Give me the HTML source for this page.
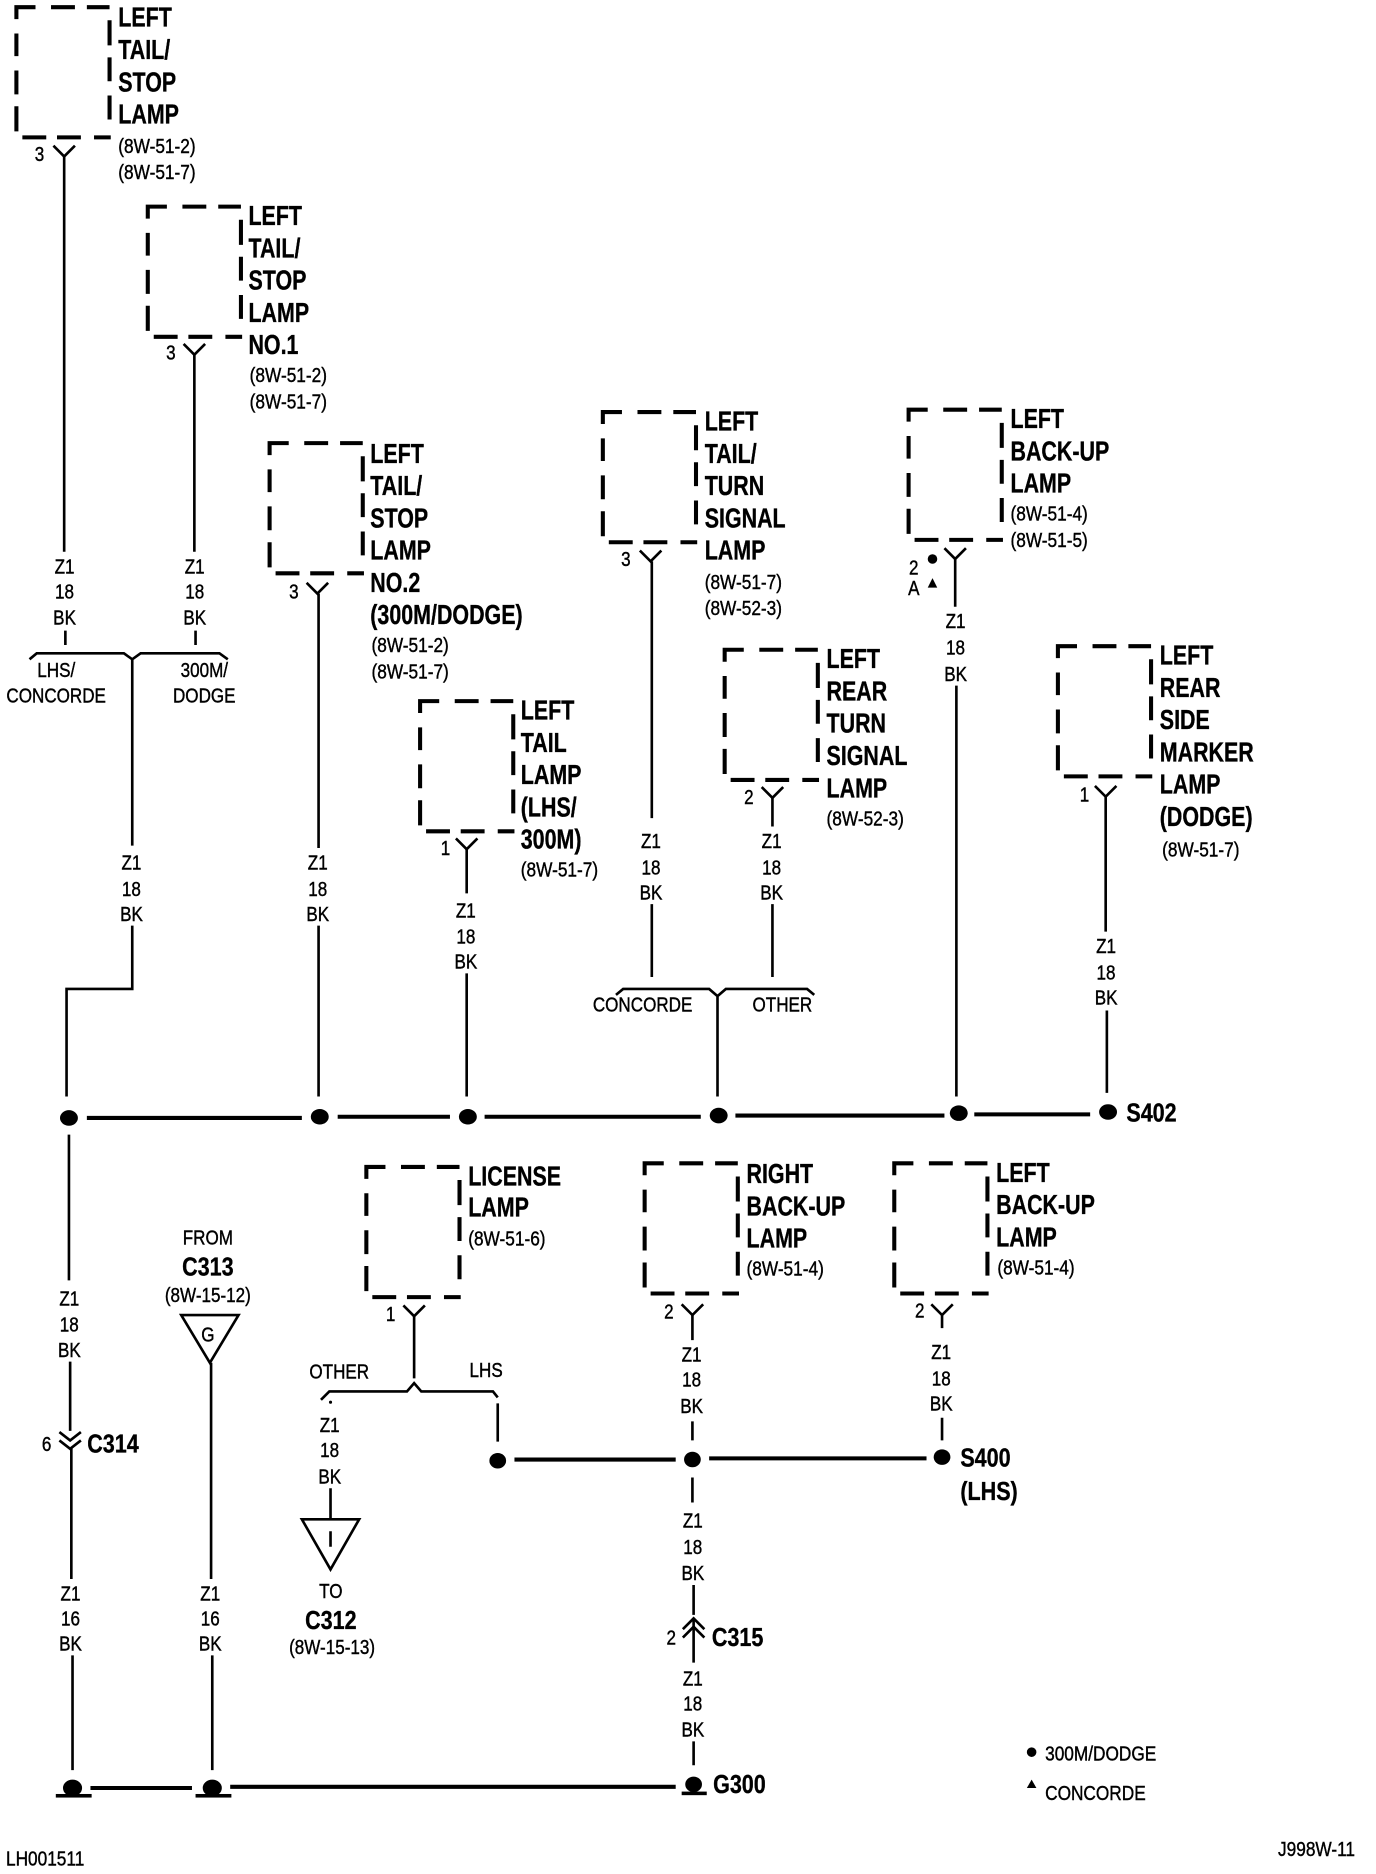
<!DOCTYPE html>
<html>
<head>
<meta charset="utf-8">
<style>
html,body{margin:0;padding:0;background:#fff}
svg{display:block}
text{font-family:"Liberation Sans",sans-serif;fill:#000;transform-box:fill-box}
.b{font-size:23px;font-weight:bold;transform-origin:0 50%;transform:scaleX(.78);stroke:#000;stroke-width:.3px}
.r{font-size:17px;transform-origin:0 50%;transform:scaleX(.85);stroke:#000;stroke-width:.35px}
.c{font-size:17px;text-anchor:middle;transform-origin:50% 50%;transform:scaleX(.84);stroke:#000;stroke-width:.35px}
.k{font-size:22px;font-weight:bold;transform-origin:0 50%;transform:scaleX(.82);stroke:#000;stroke-width:.3px}
.kc{font-size:22px;font-weight:bold;text-anchor:middle;transform-origin:50% 50%;transform:scaleX(.82);stroke:#000;stroke-width:.3px}
.w{fill:none;stroke:#000;stroke-width:2.2}
.h{fill:none;stroke:#000;stroke-width:3.4}
.d{fill:none;stroke:#000;stroke-width:3.4}
</style>
</head>
<body>
<svg xmlns="http://www.w3.org/2000/svg" width="1376" height="1874" viewBox="0 0 1152 1569">
<rect width="1152" height="1569" fill="#fff"/>
<defs>
<path id="bx" class="d" d="M0,10V0H16M29,0H49M59,0H78M78,11V32M78,42V62M78,74V94M79,109H65M34,109H54M5,109H25M0,104V83M0,73V53M0,41V22"/>
<path id="y" class="w" d="M-9,0L0,9L9,0"/>
</defs>

<g transform="translate(.7,0)">
<!-- dashed boxes -->
<use href="#bx" x="13" y="6"/>
<use href="#bx" x="123" y="173"/>
<use href="#bx" x="225" y="371"/>
<use href="#bx" x="351" y="587"/>
<use href="#bx" x="504" y="345"/>
<use href="#bx" x="760" y="343"/>
<use href="#bx" x="606" y="544"/>
<use href="#bx" x="885" y="541"/>
<use href="#bx" x="306" y="977"/>
<use href="#bx" x="539" y="974"/>
<use href="#bx" x="748" y="974"/>

<!-- Y connectors -->
<use href="#y" x="53" y="122"/>
<use href="#y" x="162" y="288"/>
<use href="#y" x="265" y="488"/>
<use href="#y" x="390" y="702"/>
<use href="#y" x="544" y="461"/>
<use href="#y" x="799" y="459"/>
<use href="#y" x="646" y="659"/>
<use href="#y" x="925" y="658"/>
<use href="#y" x="346" y="1093"/>
<use href="#y" x="579" y="1092"/>
<use href="#y" x="788" y="1092"/>

<!-- wires -->
<path class="w" d="M53,131V462M54,528V540M162,297V462M163,528V540"/>
<path class="w" d="M24,552L30,547H103L110,552L117,547H183L190,552M110,552V708"/>
<path class="w" d="M110,775V828H55V918"/>
<path class="w" d="M266,497V710M266,775V918"/>
<path class="w" d="M390,711V748M390,815V918"/>
<path class="w" d="M545,470V685M545,757V818M646,668V692M646,757V818"/>
<path class="w" d="M515,833L521,828H593L600,834L607,828H675L681,833M600,834V918"/>
<path class="w" d="M799,468V508M800,574V918"/>
<path class="w" d="M925,667V780M926,846V915"/>
<path class="w" d="M57,950V1072M58,1140V1198M59,1212V1322M60,1386V1482"/>
<path class="w" d="M176,1141V1322M177,1386V1482"/>
<path class="w" d="M346,1102V1154M268,1172L275,1165H340L346,1158L352,1165H412L416,1170M416,1175V1207"/>
<path class="w" d="M276,1246V1272M276,1282V1295"/>
<path class="w" d="M579,1101V1122M579,1190V1206M579,1237V1258M580,1327V1352M580,1356V1392M580,1458V1478"/>
<path class="w" d="M788,1101V1112M788,1187V1206"/>

<!-- buses -->
<path class="h" d="M72,936H252M282,935H376M405,935H586M615,934H790M815,933H912"/>
<path class="h" d="M430,1222H565M593,1221H775"/>
<path class="h" d="M75,1497H160M192,1496H565"/>

<!-- dots -->
<g fill="#000">
<ellipse cx="57" cy="936" rx="7.5" ry="6.5"/>
<ellipse cx="267" cy="935" rx="7.5" ry="6.5"/>
<ellipse cx="391" cy="935" rx="7.5" ry="6.5"/>
<ellipse cx="601" cy="934" rx="7.5" ry="6.5"/>
<ellipse cx="802" cy="932" rx="7.5" ry="6.5"/>
<ellipse cx="927" cy="931" rx="7.5" ry="6.5"/>
<ellipse cx="416" cy="1223" rx="7" ry="6.5"/>
<ellipse cx="579" cy="1222" rx="7" ry="6.5"/>
<ellipse cx="788" cy="1220" rx="7" ry="6.5"/>
<ellipse cx="60" cy="1497" rx="8" ry="7"/><rect x="46" y="1502" width="30" height="3"/>
<ellipse cx="177" cy="1497" rx="8" ry="7"/><rect x="163" y="1502" width="30" height="3"/>
<ellipse cx="580" cy="1494" rx="7" ry="6.5"/><rect x="570" y="1500" width="21" height="3"/>
<circle cx="276" cy="1174" r="1.3"/>
<circle cx="780" cy="468" r="4"/>
<path d="M776,492L780,484L784,492Z"/>
<circle cx="863" cy="1467" r="4"/>
<path d="M859,1497L863,1490L867,1497Z"/>
</g>

<!-- triangles -->
<path class="w" d="M151,1101H199L175,1141Z"/>
<path class="w" d="M252,1272H300L276,1314Z"/>

<!-- chevrons -->
<path class="w" d="M49,1199L58,1206L67,1199M49,1206L58,1213L67,1206"/>
<path class="w" d="M571,1364L580,1355L589,1364M571,1371L580,1362L589,1371"/>
</g>

<!-- bold component labels -->
<text class="b" x="99" y="22">LEFT</text><text class="b" x="99" y="49.5">TAIL/</text><text class="b" x="99" y="76.5">STOP</text><text class="b" x="99" y="103.5">LAMP</text>
<text class="r" x="99" y="128">(8W-51-2)</text><text class="r" x="99" y="150">(8W-51-7)</text>

<text class="b" x="208" y="188.5">LEFT</text><text class="b" x="208" y="215.5">TAIL/</text><text class="b" x="208" y="242.5">STOP</text><text class="b" x="208" y="269.5">LAMP</text><text class="b" x="208" y="296.5">NO.1</text>
<text class="r" x="209" y="320">(8W-51-2)</text><text class="r" x="209" y="342">(8W-51-7)</text>

<text class="b" x="310" y="387.5">LEFT</text><text class="b" x="310" y="414.5">TAIL/</text><text class="b" x="310" y="441.5">STOP</text><text class="b" x="310" y="468.5">LAMP</text><text class="b" x="310" y="495.5">NO.2</text><text class="b" x="310" y="522.5">(300M/DODGE)</text>
<text class="r" x="311" y="546">(8W-51-2)</text><text class="r" x="311" y="568">(8W-51-7)</text>

<text class="b" x="436" y="602.5">LEFT</text><text class="b" x="436" y="629.5">TAIL</text><text class="b" x="436" y="656.5">LAMP</text><text class="b" x="436" y="683.5">(LHS/</text><text class="b" x="436" y="710.5">300M)</text>
<text class="r" x="436" y="734">(8W-51-7)</text>

<text class="b" x="590" y="360.5">LEFT</text><text class="b" x="590" y="387.5">TAIL/</text><text class="b" x="590" y="414.5">TURN</text><text class="b" x="590" y="441.5">SIGNAL</text><text class="b" x="590" y="468.5">LAMP</text>
<text class="r" x="590" y="493">(8W-51-7)</text><text class="r" x="590" y="515">(8W-52-3)</text>

<text class="b" x="846" y="358.5">LEFT</text><text class="b" x="846" y="385.5">BACK-UP</text><text class="b" x="846" y="412.5">LAMP</text>
<text class="r" x="846" y="436">(8W-51-4)</text><text class="r" x="846" y="458">(8W-51-5)</text>

<text class="b" x="692" y="559.5">LEFT</text><text class="b" x="692" y="586.5">REAR</text><text class="b" x="692" y="613.5">TURN</text><text class="b" x="692" y="640.5">SIGNAL</text><text class="b" x="692" y="667.5">LAMP</text>
<text class="r" x="692" y="691">(8W-52-3)</text>

<text class="b" x="971" y="556.5">LEFT</text><text class="b" x="971" y="583.5">REAR</text><text class="b" x="971" y="610.5">SIDE</text><text class="b" x="971" y="637.5">MARKER</text><text class="b" x="971" y="664.5">LAMP</text><text class="b" x="971" y="691.5">(DODGE)</text>
<text class="r" x="973" y="717">(8W-51-7)</text>

<text class="b" x="392" y="992.5">LICENSE</text><text class="b" x="392" y="1018.5">LAMP</text>
<text class="r" x="392" y="1043">(8W-51-6)</text>

<text class="b" x="625" y="990.5">RIGHT</text><text class="b" x="625" y="1017.5">BACK-UP</text><text class="b" x="625" y="1044.5">LAMP</text>
<text class="r" x="625" y="1068">(8W-51-4)</text>

<text class="b" x="834" y="989.5">LEFT</text><text class="b" x="834" y="1016.5">BACK-UP</text><text class="b" x="834" y="1043.5">LAMP</text>
<text class="r" x="835" y="1067">(8W-51-4)</text>

<!-- pin numbers -->
<text class="c" x="33" y="135">3</text>
<text class="c" x="143" y="301">3</text>
<text class="c" x="246" y="501">3</text>
<text class="c" x="373" y="716">1</text>
<text class="c" x="524" y="474">3</text>
<text class="c" x="765" y="481">2</text>
<text class="c" x="765" y="498">A</text>
<text class="c" x="627" y="673">2</text>
<text class="c" x="908" y="671">1</text>
<text class="c" x="327" y="1106">1</text>
<text class="c" x="560" y="1104">2</text>
<text class="c" x="770" y="1103">2</text>
<text class="c" x="39" y="1215">6</text>
<text class="c" x="562" y="1377">2</text>

<!-- wire labels -->
<text class="c" x="54" y="480">Z1</text><text class="c" x="54" y="501">18</text><text class="c" x="54" y="523">BK</text>
<text class="c" x="163" y="480">Z1</text><text class="c" x="163" y="501">18</text><text class="c" x="163" y="523">BK</text>
<text class="c" x="110" y="728">Z1</text><text class="c" x="110" y="750">18</text><text class="c" x="110" y="771">BK</text>
<text class="c" x="266" y="728">Z1</text><text class="c" x="266" y="750">18</text><text class="c" x="266" y="771">BK</text>
<text class="c" x="390" y="768">Z1</text><text class="c" x="390" y="790">18</text><text class="c" x="390" y="811">BK</text>
<text class="c" x="545" y="710">Z1</text><text class="c" x="545" y="732">18</text><text class="c" x="545" y="753">BK</text>
<text class="c" x="646" y="710">Z1</text><text class="c" x="646" y="732">18</text><text class="c" x="646" y="753">BK</text>
<text class="c" x="800" y="526">Z1</text><text class="c" x="800" y="548">18</text><text class="c" x="800" y="570">BK</text>
<text class="c" x="926" y="798">Z1</text><text class="c" x="926" y="820">18</text><text class="c" x="926" y="841">BK</text>
<text class="c" x="58" y="1093">Z1</text><text class="c" x="58" y="1115">18</text><text class="c" x="58" y="1136">BK</text>
<text class="c" x="59" y="1340">Z1</text><text class="c" x="59" y="1361">16</text><text class="c" x="59" y="1382">BK</text>
<text class="c" x="176" y="1340">Z1</text><text class="c" x="176" y="1361">16</text><text class="c" x="176" y="1382">BK</text>
<text class="c" x="276" y="1199">Z1</text><text class="c" x="276" y="1220">18</text><text class="c" x="276" y="1242">BK</text>
<text class="c" x="579" y="1140">Z1</text><text class="c" x="579" y="1161">18</text><text class="c" x="579" y="1183">BK</text>
<text class="c" x="788" y="1138">Z1</text><text class="c" x="788" y="1160">18</text><text class="c" x="788" y="1181">BK</text>
<text class="c" x="580" y="1279">Z1</text><text class="c" x="580" y="1301">18</text><text class="c" x="580" y="1323">BK</text>
<text class="c" x="580" y="1411">Z1</text><text class="c" x="580" y="1432">18</text><text class="c" x="580" y="1454">BK</text>

<!-- split labels -->
<text class="c" x="47" y="567">LHS/</text><text class="c" x="47" y="588">CONCORDE</text>
<text class="c" x="171" y="567">300M/</text><text class="c" x="171" y="588">DODGE</text>
<text class="c" x="538" y="847">CONCORDE</text><text class="c" x="655" y="847">OTHER</text>
<text class="c" x="284" y="1154">OTHER</text><text class="c" x="407" y="1153">LHS</text>

<!-- connector labels -->
<text class="k" x="943" y="939">S402</text>
<text class="k" x="804" y="1228">S400</text>
<text class="k" x="804" y="1256">(LHS)</text>
<text class="k" x="73" y="1216">C314</text>
<text class="k" x="596" y="1378">C315</text>
<text class="k" x="597" y="1501">G300</text>

<text class="c" x="174" y="1042">FROM</text>
<text class="kc" x="174" y="1068">C313</text>
<text class="c" x="174" y="1090">(8W-15-12)</text>
<text class="c" x="174" y="1123">G</text>

<text class="c" x="277" y="1338">TO</text>
<text class="kc" x="277" y="1364">C312</text>
<text class="c" x="278" y="1385">(8W-15-13)</text>

<!-- legend / ids -->
<text class="r" x="875" y="1474">300M/DODGE</text>
<text class="r" x="875" y="1507">CONCORDE</text>
<text class="r" x="1070" y="1554">J998W-11</text>
<text class="r" x="5" y="1562">LH001511</text>
</svg>
</body>
</html>
